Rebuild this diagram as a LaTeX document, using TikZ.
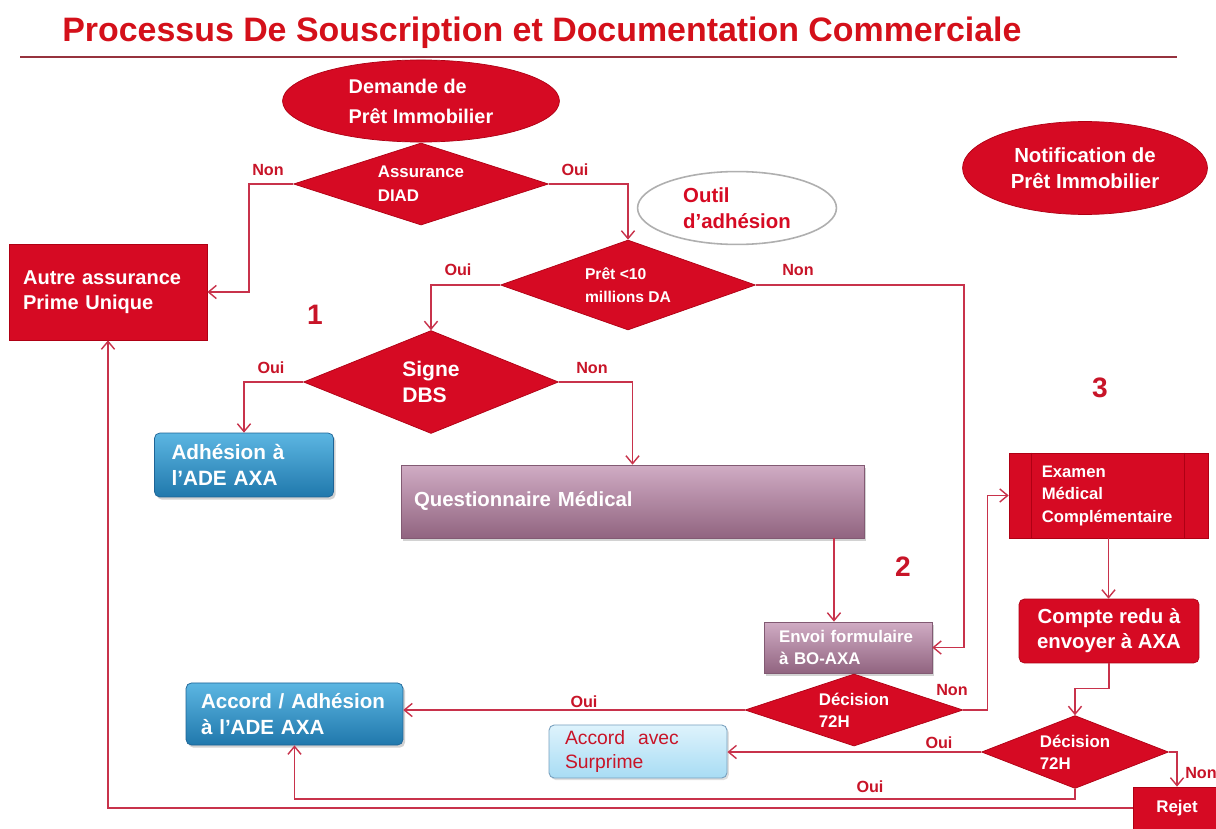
\documentclass[tikz,border=0pt]{standalone}
\usepackage{fontspec}
\setmainfont{Liberation Sans}
\usetikzlibrary{shapes.geometric,arrows.meta,calc,shadows}
\definecolor{mred}{RGB}{214,10,35}
\definecolor{mredd}{RGB}{175,0,20}
\definecolor{linec}{RGB}{200,50,75}
\definecolor{titlec}{RGB}{212,16,26}
\definecolor{rulec}{RGB}{150,50,62}
\definecolor{labc}{RGB}{200,20,40}
\definecolor{bluet}{RGB}{92,182,226}
\definecolor{blueb}{RGB}{32,120,172}
\definecolor{blued}{RGB}{30,100,150}
\definecolor{mauvet}{RGB}{208,172,196}
\definecolor{mauveb}{RGB}{145,100,128}
\definecolor{mauved}{RGB}{130,90,115}
\definecolor{surpt}{RGB}{222,243,252}
\definecolor{surpb}{RGB}{168,220,244}
\definecolor{surpd}{RGB}{120,160,190}
\definecolor{outild}{RGB}{175,175,175}
\tikzset{
  redsh/.style={fill=mred, draw=mredd, line width=0.4pt, text=white, inner sep=0pt},
  dia/.style n args={3}{redsh, diamond, aspect=#3, minimum width=#1, minimum height=#2, align=left},
  ell/.style 2 args={redsh, ellipse, minimum width=#1, minimum height=#2, align=left},
  bluebox/.style={rectangle, rounded corners=3pt, top color=bluet, bottom color=blueb, draw=blued, line width=0.4pt, text=white, inner ysep=0pt, align=left, drop shadow={opacity=0.35, shadow xshift=1.2pt, shadow yshift=-1.5pt}},
  mauvebox/.style={rectangle, top color=mauvet, bottom color=mauveb, draw=mauved, line width=0.4pt, text=white, inner ysep=0pt, align=left, drop shadow={opacity=0.35, shadow xshift=1.2pt, shadow yshift=-1.5pt}},
  arr/.style={draw=linec, line width=0.8pt, -{Straight Barb[length=4.5pt,width=7.5pt]}},
  lab/.style={text=labc, inner sep=0pt, font=\fontsize{9.2}{11}\selectfont\bfseries},
  num/.style={text=labc, inner sep=0pt, font=\fontsize{16}{19}\selectfont\bfseries},
}
\begin{document}
\begin{tikzpicture}[x=0.02cm,y=-0.02cm]
\fill[white] (0,0) rectangle (1216,828);
\useasboundingbox (0,0) rectangle (1216,828);

% title
\node[anchor=base west, text=titlec, inner sep=0pt, font=\fontsize{19.3}{23}\selectfont\bfseries] (title) at (62,42) {Processus De Souscription et Documentation Commerciale};
\draw[rulec, line width=1.2pt] (20,57) -- (1177,57);

% top ellipse and first decision
\node[ell={157.6pt}{46.7pt}, font=\fontsize{11.3}{17}\selectfont\bfseries] (e1) at (421,101) {Demande de\\Prêt Immobilier};
\node[dia={145.1pt}{46.7pt}{3.1}, font=\fontsize{9.6}{13.5}\selectfont\bfseries] (d1) at (421,184) {Assurance\\DIAD};

% outil and notification
\node[ellipse, draw=outild, line width=0.9pt, fill=white, minimum width=113.2pt, minimum height=41.5pt, inner sep=0pt, text=mred, align=left, font=\fontsize{11.6}{15}\selectfont\bfseries] (outil) at (737,208) {Outil\\d’adhésion};
\node[ell={139.4pt}{52.9pt}, align=center, font=\fontsize{11.6}{15}\selectfont\bfseries] (notif) at (1085,168) {Notification de\\Prêt Immobilier};

% autre assurance
\node[redsh, rectangle, inner xsep=8pt, text width=96.7pt, minimum height=54.6pt, align=left, font=\fontsize{11.4}{14.2}\selectfont\bfseries] (autre) at (108,292) {Autre assurance\\Prime Unique};

% second decision
\node[dia={145.1pt}{51.2pt}{2.83}, font=\fontsize{8.9}{13}\selectfont\bfseries] (d2) at (628,285) {Prêt <10\\millions DA};

% third decision
\node[dia={145.1pt}{58.6pt}{2.5}, font=\fontsize{12}{15}\selectfont\bfseries] (d3) at (431,382) {Signe\\DBS};

% outcomes
\node[bluebox, inner xsep=9.7pt, text width=82.5pt, minimum height=36.4pt, font=\fontsize{11.8}{15}\selectfont\bfseries] (adh) at (244,465) {Adhésion à\\l’ADE AXA};
\node[mauvebox, inner xsep=7.4pt, text width=248.7pt, minimum height=41.5pt, font=\fontsize{11.6}{14}\selectfont\bfseries] (quest) at (632.5,501.5) {Questionnaire Médical};
\node[mauvebox, inner xsep=8.5pt, text width=78.5pt, minimum height=29pt, font=\fontsize{9.6}{12.4}\selectfont\bfseries] (envoi) at (848,647.5) {Envoi formulaire\\à BO-AXA};
\node[dia={124pt}{41pt}{3}, font=\fontsize{9.6}{12.4}\selectfont\bfseries] (d4) at (854,710) {Décision\\72H};
\node[bluebox, inner xsep=8.5pt, text width=106.4pt, minimum height=35.3pt, font=\fontsize{11.7}{14.5}\selectfont\bfseries] (accord) at (294.5,714) {Accord / Adhésion\\à l’ADE AXA};

% right column
\node[redsh, rectangle, inner xsep=18.6pt, text width=76pt, minimum height=48.4pt, align=left, font=\fontsize{9.5}{12.8}\selectfont\bfseries] (exam) at (1108.5,495.5) {Examen\\Médical\\Complémentaire};
\draw[mredd, line width=0.5pt] ([xshift=13.1pt]exam.north west) -- ([xshift=13.1pt]exam.south west);
\draw[mredd, line width=0.5pt] ([xshift=-13.7pt]exam.north east) -- ([xshift=-13.7pt]exam.south east);
\node[redsh, rectangle, rounded corners=3pt, minimum width=102.4pt, minimum height=36.4pt, align=center, font=\fontsize{11.6}{14.2}\selectfont\bfseries] (compte) at (1109,631) {Compte redu à\\envoyer à AXA};
\node[dia={106.4pt}{41.5pt}{2.5}, font=\fontsize{9.6}{12.4}\selectfont\bfseries] (d5) at (1075,752) {Décision\\72H};
\node[rectangle, rounded corners=3pt, top color=surpt, bottom color=surpb, draw=surpd, line width=0.5pt, text=labc, inner xsep=9.1pt, inner ysep=0pt, text width=83.1pt, minimum height=30.2pt, align=left, font=\fontsize{11}{14.2}\selectfont, drop shadow={opacity=0.25, shadow xshift=1pt, shadow yshift=-1.2pt}] (surp) at (638,751.5) {Accord~~avec\\Surprime};
\node[redsh, rectangle, minimum width=50pt, minimum height=23.9pt, font=\fontsize{9.6}{12}\selectfont\bfseries] (rejet) at (1177,808) {Rejet};

% numbers
\node[num] (n1) at (315,315) {1};
\node[num] (n2) at (903,567) {2};
\node[num] (n3) at (1100,388) {3};

% labels
\node[lab] (l1n) at (268,170) {Non};
\node[lab] (l1o) at (575,170) {Oui};
\node[lab] (l2o) at (458,270) {Oui};
\node[lab] (l2n) at (798,270) {Non};
\node[lab] (l3o) at (271,368) {Oui};
\node[lab] (l3n) at (592,368) {Non};
\node[lab] (l4o) at (584,702) {Oui};
\node[lab] (l4n) at (952,690) {Non};
\node[lab] (l5o) at (939,743) {Oui};
\node[lab] (l5n) at (1201,773) {Non};
\node[lab] (l6o) at (870,787) {Oui};

% connectors
\draw[arr] (d1.west) -- ++(-44,0) |- (autre.east);
\draw[arr] (d1.east) -| (d2.north);
\draw[arr] (d2.west) -| (d3.north);
\draw[arr] (d3.west) -| (adh.north);
\draw[arr] (d3.east) -| (quest.north);
\draw[arr] ([xshift=-8pt]envoi.north |- quest.south) -- ([xshift=-8pt]envoi.north);
\draw[arr] (d2.east) -- ++(208,0) |- (envoi.east);
\draw[arr] (d4.west) -- (d4.west -| accord.east);
\draw[arr] (d4.east) -- ++(24,0) |- (exam.west);
\draw[arr] (exam.south) -- (exam.south |- compte.north);
\draw[arr] (compte.south) -- ++(0,25) -| (d5.north);
\draw[arr] (d5.west) -- (d5.west -| surp.east);
\draw[arr] (d5.east) -| (rejet.north);
\draw[arr] (d5.south) -- ++(0,10) -| (accord.south);
\draw[arr] (rejet.west) -| (autre.south);
\end{tikzpicture}
\end{document}
